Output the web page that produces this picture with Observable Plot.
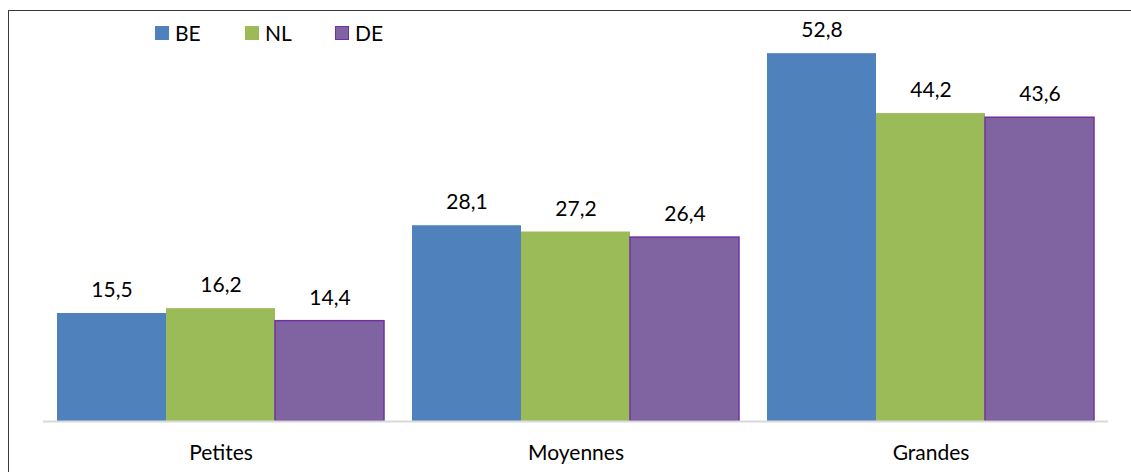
<!DOCTYPE html>
<html>
<head>
<meta charset="utf-8">
<script src="https://cdn.jsdelivr.net/npm/d3@7"></script>
<script src="https://cdn.jsdelivr.net/npm/@observablehq/plot@0.6"></script>
<style>
  html, body { margin: 0; padding: 0; background: #fff; }
  #wrap { position: relative; width: 1131px; height: 472px; overflow: hidden; font-family: Lato, "Open Sans", sans-serif; }
  #frame { position: absolute; left: 8px; top: 10px; width: 1300px; height: 600px; border: 1.5px solid #3a3a3a; box-sizing: border-box; pointer-events: none; }
  #legend { position: absolute; left: 155px; top: 20px; display: flex; font-size: 21px; color: #000; }
  #legend .item { display: flex; align-items: center; width: 90px; }
  #legend .sw { width: 14px; height: 14px; margin-right: 6px; box-sizing: border-box; }
</style>
</head>
<body>
<div id="wrap">
  <div id="chart"></div>
  <div id="frame"></div>
  <div id="legend"></div>
</div>
<script>
// Company size groups and the three countries compared
const categories = ["Petites", "Moyennes", "Grandes"];
const series = ["BE", "NL", "DE"];
const valuesBE = [15.5, 28.1, 52.8];
const valuesNL = [16.2, 27.2, 44.2];
const valuesDE = [14.4, 26.4, 43.6];
const fills = ["#4f81bd", "#9bbb59", "#8064a2"];
const strokes = ["none", "none", "#7030a0"];

const bySeries = { BE: valuesBE, NL: valuesNL, DE: valuesDE };
const data = [];
categories.forEach((cat, i) => {
  series.forEach(s => data.push({ cat, series: s, value: bySeries[s][i] }));
});

const fmt = v => v.toFixed(1).replace(".", ",");
const strokeOf = s => strokes[series.indexOf(s)];

const chart = Plot.plot({
  width: 1131,
  height: 472,
  marginLeft: 42,
  marginRight: 22,
  marginTop: 3,
  marginBottom: 51,
  style: { fontFamily: "Lato, 'Open Sans', sans-serif", color: "#000", background: "transparent" },
  fx: { domain: categories, paddingInner: 0, paddingOuter: 0, label: null },
  x: { domain: series, paddingInner: 0, paddingOuter: 0.124, axis: null },
  y: { domain: [0, 60], axis: null },
  color: { domain: series, range: fills },
  marks: [
    Plot.barY(data, {
      fx: "cat", x: "series", y: "value", fill: "series",
      stroke: d => strokeOf(d.series), strokeWidth: 1.5, inset: 0
    }),
    Plot.ruleY([0], { stroke: "#d9d9d9", strokeWidth: 2 }),
    Plot.text(data, {
      fx: "cat", x: "series", y: "value", text: d => fmt(d.value),
      lineAnchor: "middle", dy: -23, fontSize: 21, fill: "#000"
    }),
    Plot.axisFx({ anchor: "bottom", tickSize: 0, tickPadding: 24, fontSize: 21, label: null })
  ]
});
document.getElementById("chart").appendChild(chart);

// Legend row inside the frame
const legend = document.getElementById("legend");
series.forEach((s, i) => {
  const item = document.createElement("div");
  item.className = "item";
  const sw = document.createElement("div");
  sw.className = "sw";
  sw.style.background = fills[i];
  if (strokes[i] !== "none") sw.style.border = `1.5px solid ${strokes[i]}`;
  const label = document.createElement("span");
  label.textContent = s;
  item.appendChild(sw);
  item.appendChild(label);
  legend.appendChild(item);
});
</script>
</body>
</html>
